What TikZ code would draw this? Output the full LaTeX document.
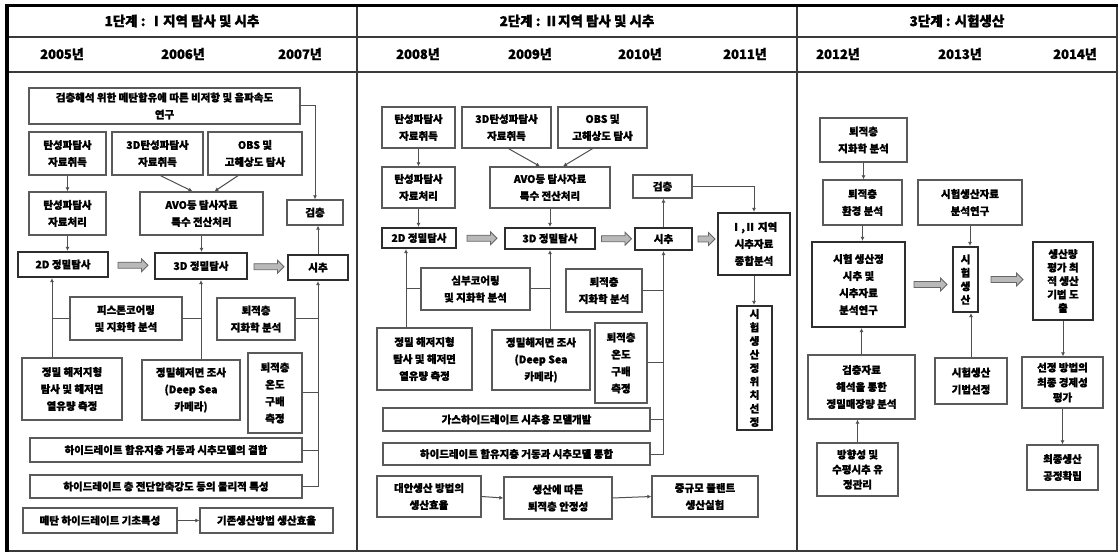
\documentclass[tikz,border=0pt]{standalone}
\usepackage{fontspec}
\newfontfamily\kr{Noto Sans CJK KR}[BoldFeatures={FakeBold=1.2}]
\usetikzlibrary{arrows.meta,calc,shapes.arrows}
\definecolor{boxgray}{HTML}{5A5A5A}
\definecolor{thickgray}{HTML}{2E2E2E}
\definecolor{linegray}{HTML}{505050}
\definecolor{framegray}{HTML}{3A3A3A}
\tikzset{
  box/.style={draw=boxgray,line width=1.3pt,fill=white,align=center,inner sep=1pt,
    font=\kr\bfseries\fontsize{10.5}{17}\selectfont},
  thickbox/.style={draw=thickgray,line width=2.2pt},
  vert/.style={font=\kr\bfseries\fontsize{10.5}{13.5}\selectfont},
  tight/.style={font=\kr\bfseries\fontsize{10.5}{15}\selectfont},
  arr/.style={draw=linegray,line width=1pt,-{Latex[length=4pt,width=4pt]}},
  ln/.style={draw=linegray,line width=1pt},
  blk/.style={single arrow,draw=gray!80!black,fill=gray!55,line width=0.8pt,
    inner sep=2.6pt,single arrow head extend=3.5pt,minimum height=30pt},
  hdr/.style={font=\kr\bfseries\fontsize{13.5}{15}\selectfont},
  yr/.style={font=\kr\bfseries\fontsize{13}{15}\selectfont}
}
\newcommand{\bx}[7][]{\node[box,#1,minimum width={(#5-#3)*1pt},minimum height={(#6-#4)*1pt}] (#2) at ({(#3+#5)/2},{(#4+#6)/2}) {#7};}
\begin{document}
\begin{tikzpicture}[x=1pt,y=-1pt]
\useasboundingbox (0,0) rectangle (1120,553);
\fill[white] (0,0) rectangle (1120,553);
% frame
\draw[framegray,line width=2pt] (6,37) -- (1117,37);
\draw[framegray,line width=2pt] (6,72) -- (1117,72);
\draw[framegray,line width=2pt] (357,5) -- (357,551);
\draw[framegray,line width=2pt] (797,5) -- (797,551);
\draw[framegray,line width=1.5pt] (1117,5) -- (1117,551) -- (6,551);
\draw[black,line width=3pt] (5,5.5) -- (1118,5.5);
\draw[black,line width=4pt] (6.5,4) -- (6.5,552);
% headers
\node[hdr] (h1) at (182,21) {1단계 : Ⅰ지역 탐사 및 시추};
\node[hdr] (h2) at (577,21) {2단계 : Ⅱ지역 탐사 및 시추};
\node[hdr] (h3) at (957,21) {3단계 : 시험생산};
\node[yr] (y05) at (62,54) {2005년};
\node[yr] (y06) at (183,54) {2006년};
\node[yr] (y07) at (300,54) {2007년};
\node[yr] (y08) at (418,54) {2008년};
\node[yr] (y09) at (530,54) {2009년};
\node[yr] (y10) at (640,54) {2010년};
\node[yr] (y11) at (745,54) {2011년};
\node[yr] (y12) at (838,54) {2012년};
\node[yr] (y13) at (960,54) {2013년};
\node[yr] (y14) at (1075,54) {2014년};
% ---------------- left panel
\bx{gcres}{29}{88}{300}{124}{검층해석 위한 메탄함유에 따른 비저항 및 음파속도\\연구}
\bx{a1}{29}{132}{106}{175}{탄성파탐사\\자료취득}
\bx{b1}{112}{132}{203}{175}{3D탄성파탐사\\자료취득}
\bx{c1}{208}{132}{302}{175}{OBS 및\\고해상도 탐사}
\bx{a2}{29}{192}{106}{235}{탄성파탐사\\자료처리}
\bx{avo}{140}{192}{263}{235}{AVO등 탐사자료\\특수 전산처리}
\bx{gch}{287}{200}{343}{225}{검층}
\bx[thickbox]{d2}{18}{252}{108}{277}{2D 정밀탐사}
\bx[thickbox]{d3}{155}{253}{247}{279}{3D 정밀탐사}
\bx[thickbox]{sichu}{288}{255}{348}{280}{시추}
\bx{pis}{70}{297}{182}{340}{피스톤코어링\\및 지화학 분석}
\bx{geo}{217}{298}{295}{340}{퇴적층\\지화학 분석}
\bx{jm}{22}{358}{122}{420}{정밀 해저지형\\탐사 및 해저면\\열유량 측정}
\bx{dsea}{142}{360}{240}{420}{정밀해저면 조사\\(Deep Sea\\카메라)}
\bx{temp}{248}{353}{302}{433}{퇴적층\\온도\\구배\\측정}
\bx{comb}{30}{438}{302}{462}{하이드레이트 함유지층 거동과 시추모델의 결합}
\bx{phys}{30}{475}{302}{498}{하이드레이트 층 전단압축강도 등의 물리적 특성}
\bx{meth}{23}{508}{177}{533}{메탄 하이드레이트 기초특성}
\bx{exist}{200}{508}{333}{533}{기존생산방법 생산효율}
\coordinate (lv1) at (52,0);
\draw[arr] (gcres.east) -| (gch.north);
\draw[arr] (a1.south) -- (a2.north);
\draw[arr] (a2.south) -- (a2.south |- d2.north);
\draw[arr] ($(b1.south)+(3,0)$) -- ($(avo.north)+(-9,0)$);
\draw[arr] ($(c1.south)+(-17,0)$) -- ($(avo.north)+(13,0)$);
\draw[arr] (avo.south) -- (avo.south |- d3.north);
\draw[arr] (sichu.north) -- (sichu.north |- gch.south);
\node[blk] (ba1) at ($(d2.east)!0.5!(d3.west)$) {};
\node[blk] (ba2) at ($(d3.east)!0.5!(sichu.west)$) {};
\draw[arr] (jm.north -| lv1) -- (d2.south -| lv1);
\draw[ln] (pis.west) -- (pis.west -| lv1);
\draw[arr] (dsea.north -| d3.south) -- (d3.south);
\draw[ln] (pis.east) -- (pis.east -| d3.south);
\draw[arr] (phys.east) -| (sichu.south);
\draw[ln] (geo.east) -- (geo.east -| sichu.south);
\draw[ln] (temp.east) -- (temp.east -| sichu.south);
\draw[ln] (comb.east) -- (comb.east -| sichu.south);
\draw[arr] (meth.east) -- (exist.west);
% ---------------- middle panel
\bx{a1m}{382}{107}{455}{148}{탄성파탐사\\자료취득}
\bx{b1m}{462}{107}{551}{148}{3D탄성파탐사\\자료취득}
\bx{c1m}{558}{107}{647}{148}{OBS 및\\고해상도 탐사}
\bx{a2m}{382}{167}{455}{208}{탄성파탐사\\자료처리}
\bx{avom}{490}{167}{610}{208}{AVO등 탐사자료\\특수 전산처리}
\bx{gchm}{633}{175}{692}{198}{검층}
\bx[thickbox]{i2}{718}{213}{790}{275}{Ⅰ,Ⅱ 지역\\시추자료\\종합분석}
\bx[thickbox]{d2m}{382}{228}{456}{248}{2D 정밀탐사}
\bx[thickbox]{d3m}{505}{228}{595}{249}{3D 정밀탐사}
\bx[thickbox]{sichum}{635}{228}{692}{250}{시추}
\bx{deepc}{421}{268}{530}{310}{심부코어링\\및 지화학 분석}
\bx{geom}{566}{269}{642}{312}{퇴적층\\지화학 분석}
\bx{jmm}{377}{328}{472}{390}{정밀 해저지형\\탐사 및 해저면\\열유량 측정}
\bx{dseam}{492}{330}{590}{390}{정밀해저면 조사\\(Deep Sea\\카메라)}
\bx{tempm}{595}{323}{647}{403}{퇴적층\\온도\\구배\\측정}
\bx[thickbox,vert]{pos}{737}{306}{772}{430}{시\\험\\생\\산\\정\\위\\치\\선\\정}
\bx{model}{383}{408}{650}{431}{가스하이드레이트 시추용 모델개발}
\bx{integ}{383}{443}{650}{465}{하이드레이트 함유지층 거동과 시추모델 통합}
\bx{alt}{377}{476}{481}{517}{대안생산 방법의\\생산효율}
\bx{stab}{504}{477}{612}{519}{생산에 따른\\퇴적층 안정성}
\bx{plant}{652}{476}{758}{517}{중규모 플랜트\\생산실험}
\coordinate (mlv) at (406,0);
\draw[arr] (a1m.south) -- (a2m.north);
\draw[arr] (a2m.south) -- (a2m.south |- d2m.north);
\draw[arr] ($(b1m.south)+(2,0)$) -- ($(avom.north)+(-10,0)$);
\draw[arr] ($(c1m.south)+(-10,0)$) -- ($(avom.north)+(13,0)$);
\draw[arr] (avom.south) -- (avom.south |- d3m.north);
\draw[arr] (sichum.north) -- (sichum.north |- gchm.south);
\draw[arr] (gchm.east) -| (i2.north);
\draw[arr] (i2.south) -- (i2.south |- pos.north);
\node[blk] (bm1) at ($(d2m.east)!0.5!(d3m.west)$) {};
\node[blk] (bm2) at ($(d3m.east)!0.5!(sichum.west)$) {};
\node[blk,minimum height=17pt] (bm3) at ($(sichum.east)!0.5!(sichum.east -| i2.west)$) {};
\draw[arr] (jmm.north -| mlv) -- (d2m.south -| mlv);
\draw[ln] (deepc.west) -- (deepc.west -| mlv);
\draw[arr] (dseam.north -| d3m.south) -- (d3m.south);
\draw[ln] (deepc.east) -- (deepc.east -| d3m.south);
\draw[arr] (integ.east) -| (sichum.south);
\draw[ln] (geom.east) -- (geom.east -| sichum.south);
\draw[ln] (tempm.east) -- (tempm.east -| sichum.south);
\draw[ln] (model.east) -- (model.east -| sichum.south);
\draw[arr] (alt.east) -- (stab.west);
\draw[arr] (stab.east) -- (plant.west);
% ---------------- right panel
\bx{rgeo}{820}{118}{907}{162}{퇴적층\\지화학 분석}
\bx{renv}{823}{180}{902}{225}{퇴적층\\환경 분석}
\bx{rdata}{918}{180}{1022}{225}{시험생산자료\\분석연구}
\bx[thickbox]{tdrill}{812}{242}{905}{327}{시험 생산정\\시추 및\\시추자료\\분석연구}
\bx[thickbox,vert]{tprod}{953}{247}{978}{312}{시\\험\\생\\산}
\bx[thickbox,vert]{opt}{1033}{242}{1093}{320}{생산량\\평가 최\\적 생산\\기법 도\\출}
\bx{logs}{808}{355}{915}{419}{검층자료\\해석을 통한\\정밀매장량 분석}
\bx{tsel}{935}{358}{1007}{404}{시험생산\\기법선정}
\bx[tight]{econ}{1022}{357}{1103}{408}{선정 방법의\\최종 경제성\\평가}
\bx[tight]{dirc}{817}{443}{898}{496}{방향성 및\\수평시추 유\\정관리}
\bx{final}{1027}{445}{1098}{490}{최종생산\\공정확립}
\draw[arr] (rgeo.south) -- (rgeo.south |- renv.north);
\draw[arr] (renv.south) -- (renv.south |- tdrill.north);
\draw[arr] (rdata.south) -- (rdata.south |- tprod.north);
\draw[arr] (logs.north) -- (logs.north |- tdrill.south);
\draw[arr] (dirc.north) -- (dirc.north |- logs.south);
\draw[arr] (tsel.north) -- (tsel.north |- tprod.south);
\draw[arr] (opt.south) -- (opt.south |- econ.north);
\draw[arr] (econ.south) -- (econ.south |- final.north);
\node[blk,minimum height=33pt] (br1) at ($(tdrill.east)!0.5!(tdrill.east -| tprod.west)$) {};
\node[blk,minimum height=32pt] (br2) at ($(tprod.east)!0.5!(tprod.east -| opt.west)$) {};
\end{tikzpicture}
\end{document}
